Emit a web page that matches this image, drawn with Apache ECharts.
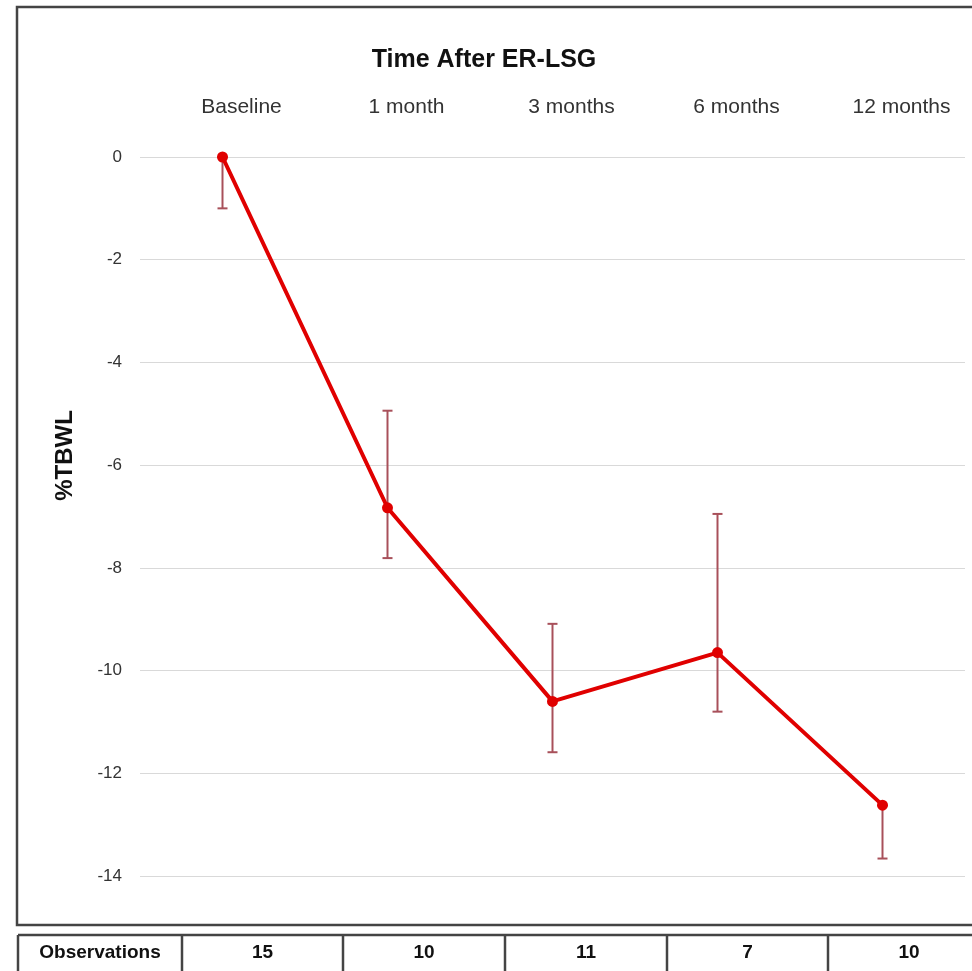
<!DOCTYPE html>
<html>
<head>
<meta charset="utf-8">
<script src="https://cdn.jsdelivr.net/npm/echarts@6/dist/echarts.min.js"></script>
<style>
    html, body { margin: 0; padding: 0; background: #fff; }
    #chart { width: 972px; height: 971px; }
</style>
</head>
<body>
<div id="chart"></div>
<script>
// categories + values
var categories = ['Baseline', '1 month', '3 months', '6 months', '12 months'];
var meanTBWL = [0, -6.83, -10.6, -9.65, -12.62];
var errLow = [-1.0, -7.81, -11.59, -10.8, -13.66];
var errHigh = [0, -4.94, -9.09, -6.95, -12.62];
var observations = [15, 10, 11, 7, 10];
var yMin = -14, yMax = 0, yStep = 2;

var FONT = '"Liberation Sans", Arial, sans-serif';

var chart = echarts.init(document.getElementById('chart'));

// error bar data: [index, low, high]
var errData = [];
for (var i = 0; i < categories.length; i++) {
    errData.push([i, errLow[i], errHigh[i]]);
}

// observations table under the plot box
var tableTop = 935;
var colEdges = [18, 182, 343, 505, 667, 828, 990];
var tableEls = [{
    type: 'line',
    shape: { x1: 18, y1: tableTop, x2: 980, y2: tableTop },
    style: { stroke: '#444', lineWidth: 2.5 }
}];
for (var c = 0; c < colEdges.length - 1; c++) {
    tableEls.push({
        type: 'line',
        shape: { x1: colEdges[c], y1: tableTop, x2: colEdges[c], y2: 980 },
        style: { stroke: '#444', lineWidth: 2.5 }
    });
    tableEls.push({
        type: 'text',
        x: (colEdges[c] + colEdges[c + 1]) / 2,
        y: 953,
        style: {
            text: c === 0 ? 'Observations' : String(observations[c - 1]),
            align: 'center',
            verticalAlign: 'middle',
            font: 'bold 19px ' + FONT,
            fill: '#111'
        }
    });
}

var option = {
    backgroundColor: '#fff',
    animation: false,
    title: {
        text: 'Time After ER-LSG',
        left: 479,
        top: 43,
        textAlign: 'center',
        textStyle: {
            fontFamily: FONT,
            fontSize: 25,
            fontWeight: 'bold',
            color: '#111'
        }
    },
    grid: {
        left: 140,
        right: 7,
        top: 157,
        bottom: 95,
        containLabel: false
    },
    xAxis: {
        type: 'category',
        position: 'top',
        boundaryGap: true,
        data: categories,
        axisLine: { show: false },
        axisTick: { show: false },
        axisLabel: {
            margin: 39,
            padding: [0, 0, 0, 38],
            fontFamily: FONT,
            fontSize: 21,
            color: '#333'
        }
    },
    yAxis: {
        type: 'value',
        min: yMin,
        max: yMax,
        interval: yStep,
        name: '%TBWL',
        nameLocation: 'middle',
        nameGap: 63,
        nameRotate: 90,
        nameTextStyle: {
            fontFamily: FONT,
            fontSize: 24,
            fontWeight: 'bold',
            color: '#111',
            padding: [0, 0, 0, 122]
        },
        axisLine: { show: false },
        axisTick: { show: false },
        axisLabel: {
            margin: 18,
            fontFamily: FONT,
            fontSize: 17,
            color: '#333'
        },
        splitLine: {
            lineStyle: { color: '#d9d9d9', width: 1.2 }
        }
    },
    series: [{
        name: 'SE',
        type: 'custom',
        z: 2,
        data: errData,
        renderItem: function (params, api) {
            var lo = api.coord([api.value(0), api.value(1)]);
            var hi = api.coord([api.value(0), api.value(2)]);
            var hw = 5;
            var st = { stroke: '#a8505a', lineWidth: 2 };
            return {
                type: 'group',
                children: [
                    { type: 'line', shape: { x1: lo[0], y1: lo[1], x2: hi[0], y2: hi[1] }, style: st },
                    { type: 'line', shape: { x1: lo[0] - hw, y1: lo[1], x2: lo[0] + hw, y2: lo[1] }, style: st },
                    { type: 'line', shape: { x1: hi[0] - hw, y1: hi[1], x2: hi[0] + hw, y2: hi[1] }, style: st }
                ]
            };
        }
    }, {
        name: '%TBWL',
        type: 'line',
        z: 3,
        data: meanTBWL,
        symbol: 'circle',
        symbolSize: 11,
        itemStyle: { color: '#e00000' },
        lineStyle: { color: '#e00000', width: 4 }
    }],
    graphic: [{
        type: 'rect',
        shape: { x: 17, y: 7, width: 990, height: 918 },
        style: { fill: 'none', stroke: '#444', lineWidth: 2.5 }
    }].concat(tableEls)
};

chart.setOption(option);
</script>
</body>
</html>
